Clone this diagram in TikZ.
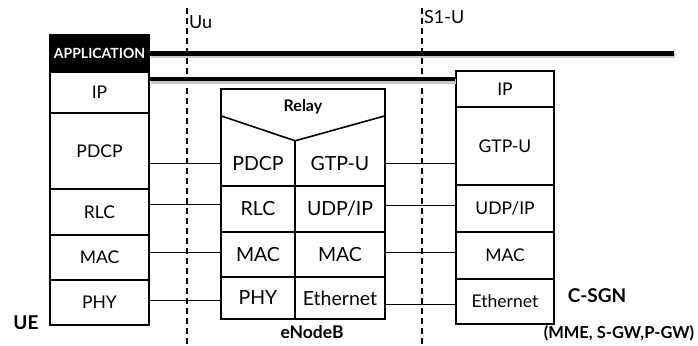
\documentclass[tikz,border=0pt]{standalone}
\usepackage{fontspec}
\setmainfont{Lato}
\usetikzlibrary{positioning}

\tikzset{
  layer/.style={draw, line width=1.6pt, inner sep=0pt, minimum width=99pt,
    font=\fontsize{17.5}{19}\selectfont},
  cell/.style={inner sep=0pt, font=\fontsize{19.5}{21}\selectfont},
  link/.style={line width=0.9pt},
  pipe/.style={line width=4.5pt, preaction={draw=black!22, line width=5pt,
    transform canvas={shift={(1pt,-2.5pt)}}}},
  iface/.style={line width=1.1pt, dash pattern=on 6pt off 4pt},
  tag/.style={font=\bfseries\fontsize{17.5}{19}\selectfont},
}

\begin{document}
\begin{tikzpicture}[x=1pt, y=-1pt]
    \useasboundingbox (0,0) rectangle (698,345);

    % UE stack
    \node[layer, fill=black, text=white, font=\bfseries\fontsize{14}{16}\selectfont,
        minimum height=37pt] (ueapp) at (99.5,53.5) {APPLICATION};
    \foreach \n/\y/\h/\t in {ueip/92.5/41/IP, uepdcp/151/76/PDCP, uerlc/212/46/RLC,
                             uemac/257.5/45/MAC, uephy/302.5/45/PHY} {
        \node[layer, minimum height=\h pt] (\n) at (99.5,\y) {\t};
    }
    \node[tag, font=\bfseries\fontsize{19}{21}\selectfont, anchor=east] (uelabel) at (42,323) {UE};

    % eNodeB
    \node[draw, line width=1.6pt, minimum width=164pt, minimum height=230pt] (enb) at (303,204) {};
    \foreach \n/\y/\h/\t in {enbpdcp/163.5/45/PDCP, enbrlc/209/46/RLC,
                             enbmac/254.5/45/MAC, enbphy/298/42/PHY} {
        \node[cell, minimum width=74pt, minimum height=\h pt] (\n) at (258,\y) {\t};
    }
    \foreach \n/\y/\h/\t in {enbgtp/163.5/45/GTP-U, enbudp/209/46/{UDP/IP},
                             enbmac2/254.5/45/MAC, enbeth/298/42/Ethernet} {
        \node[cell, minimum width=90pt, minimum height=\h pt] (\n) at (340,\y) {\t};
    }
    \node[font=\bfseries\fontsize{16}{18}\selectfont] (relay) at (303,107) {Relay};
    \draw[line width=1.6pt] ([yshift=25pt]enbpdcp.north west) -- (enbpdcp.north east)
        -- ([yshift=25pt]enbgtp.north east);
    \draw[line width=1.6pt] (enbpdcp.north east) -- (enbphy.south east);
    \foreach \a/\b in {enbpdcp/enbgtp, enbrlc/enbudp, enbmac/enbmac2} {
        \draw[line width=1.6pt] (\a.south west) -- (\b.south east);
    }
    \node[tag] (enblabel) at (312,332) {eNodeB};

    % C-SGN stack
    \foreach \n/\y/\h/\t in {csgnip/89/36/IP, csgngtp/146/78/GTP-U, csgnudp/208.5/47/{UDP/IP},
                             csgnmac/255.5/47/MAC, csgneth/301.5/45/Ethernet} {
        \node[layer, minimum width=98pt, minimum height=\h pt] (\n) at (505,\y) {\t};
    }
    \node[tag, font=\bfseries\fontsize{19}{21}\selectfont] (csgnlabel) at (597,296) {C-SGN};
    \node[tag, font=\bfseries\fontsize{16.5}{18}\selectfont] (csgnsub) at (619,333) {(MME, S-GW,P-GW)};

    % interfaces
    \coordinate (uutop) at (187,8);
    \coordinate (uubot) at (187,345);
    \coordinate (s1top) at (422,8);
    \coordinate (s1bot) at (422,345);
    \draw[iface] (uutop) -- (uubot);
    \draw[iface] (s1top) -- (s1bot);
    \node[anchor=west, inner sep=0pt, font=\fontsize{18}{20}\selectfont] (uu) at (189,22) {Uu};
    \node[anchor=west, inner sep=0pt, font=\fontsize{18}{20}\selectfont] (s1u) at (424,17) {S1-U};

    % peer links
    \draw[link] (enbpdcp.west -| uepdcp.east) -- (enbpdcp.west);
    \draw[link] ([yshift=5pt]enbrlc.west -| uerlc.east) -- ([yshift=5pt]enbrlc.west);
    \draw[link] ([yshift=2.5pt]enbmac.west -| uemac.east) -- ([yshift=2.5pt]enbmac.west);
    \draw[link] ([yshift=-2pt]enbphy.west -| uephy.east) -- ([yshift=-2pt]enbphy.west);
    \draw[link] (enbgtp.east) -- (enbgtp.east -| csgngtp.west);
    \draw[link] ([yshift=4pt]enbudp.east) -- ([yshift=4pt]enbudp.east -| csgnudp.west);
    \draw[link] ([yshift=2.5pt]enbmac2.east) -- ([yshift=2.5pt]enbmac2.east -| csgnmac.west);
    \draw[link] ([yshift=-6pt]enbeth.east) -- ([yshift=-6pt]enbeth.east -| csgneth.west);

    % end-to-end
    \coordinate (append) at (674,53.5);
    \draw[pipe] (ueapp.east) -- (append);
    \draw[pipe] ([yshift=13.5pt]ueip.east) -- ([yshift=13.5pt]ueip.east -| csgnip.west);
\end{tikzpicture}
\end{document}
